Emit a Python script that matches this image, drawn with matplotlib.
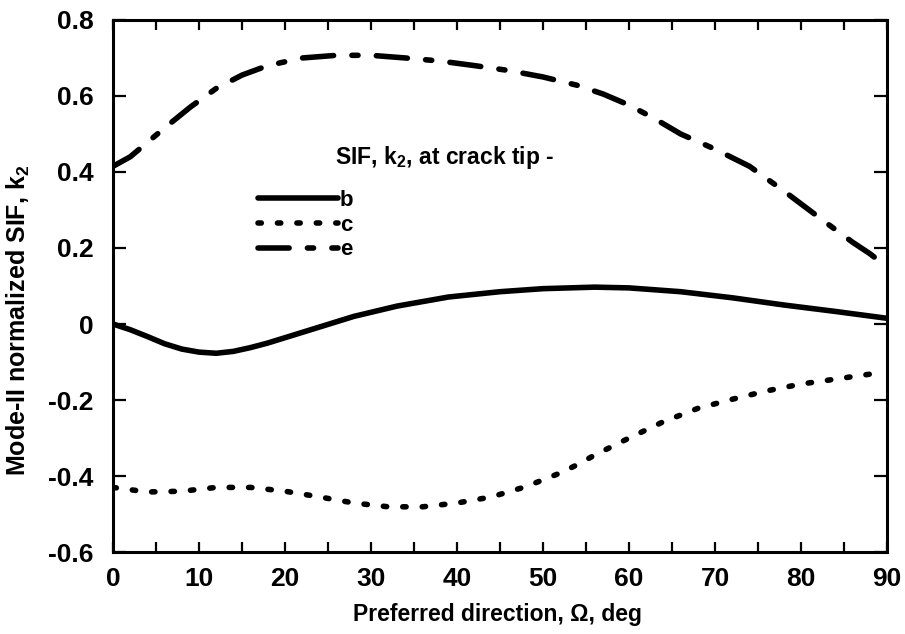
import matplotlib
matplotlib.use('Agg')
import matplotlib.pyplot as plt

plt.rcParams['font.family'] = 'Liberation Sans'
plt.rcParams['mathtext.fontset'] = 'custom'
plt.rcParams['mathtext.rm'] = 'Liberation Sans:bold'
plt.rcParams['mathtext.it'] = 'Liberation Sans:bold:italic'
plt.rcParams['mathtext.bf'] = 'Liberation Sans:bold'

# SIF k2 at crack tip b (solid)
bx = [0, 2, 4, 6, 8, 10, 12, 14, 16, 18, 20, 24, 28, 33, 39, 45, 50, 56, 60, 66, 72, 78, 84, 90]
by = [0.0, -0.015, -0.033, -0.052, -0.066, -0.074, -0.077, -0.072, -0.062, -0.05, -0.036, -0.008,
      0.02, 0.047, 0.071, 0.085, 0.093, 0.097, 0.095, 0.085, 0.069, 0.05, 0.033, 0.015]

# crack tip c (dotted)
cx = [0, 4, 8, 12, 16, 20, 24, 28, 32, 36, 40, 44, 48, 50, 52, 54, 56, 60, 64, 68, 72, 76, 80, 84, 88]
cy = [-0.43, -0.442, -0.44, -0.43, -0.43, -0.44, -0.455, -0.471, -0.481, -0.481, -0.471, -0.455,
      -0.428, -0.41, -0.392, -0.37, -0.345, -0.30, -0.257, -0.222, -0.198, -0.176, -0.158, -0.145, -0.132]

# crack tip e (dash-dot)
ex = [0, 2, 4, 6, 9, 12, 15, 18, 22, 26, 30, 34, 38, 42, 46, 50, 54, 57, 60, 63, 66, 70, 74, 78,
      80, 83, 86, 88, 90]
ey = [0.415, 0.44, 0.478, 0.516, 0.571, 0.62, 0.655, 0.68, 0.70, 0.707, 0.707, 0.70, 0.692, 0.68,
      0.667, 0.65, 0.628, 0.605, 0.576, 0.54, 0.50, 0.46, 0.415, 0.35, 0.316, 0.265, 0.215, 0.185, 0.15]

xticks = [0, 10, 20, 30, 40, 50, 60, 70, 80, 90]
yticks = [-0.6, -0.4, -0.2, 0, 0.2, 0.4, 0.6, 0.8]
ytick_labels = ['-0.6', '-0.4', '-0.2', '0', '0.2', '0.4', '0.6', '0.8']

fig = plt.figure(figsize=(9.05, 6.34), dpi=100)
ax = fig.add_axes([0.1249, 0.1293, 0.8553, 0.8392])

lw = 4.0
ax.plot(bx, by, '-', color='black', lw=lw, solid_capstyle='round', label='b')
ax.plot(cx, cy, color='black', lw=lw, linestyle=(0, (0.6, 2.9)), dash_capstyle='round', label='c')
ax.plot(ex, ey, color='black', lw=lw, linestyle=(0, (5.6, 3.3, 1.1, 3.3)),
        dash_capstyle='round', label='e')

ax.set_xlim(0, 90)
ax.set_ylim(-0.6, 0.8)
ax.set_xticks(xticks)
ax.set_xticks(range(5, 90, 10), minor=True)
ax.set_yticks(yticks)
ax.set_yticklabels(ytick_labels)

for s in ax.spines.values():
    s.set_linewidth(2.2)

ax.tick_params(axis='x', which='both', direction='in', top=True, length=7, width=1.6,
               labelsize=19, pad=11)
ax.tick_params(axis='y', which='both', direction='in', right=True, length=9.5, width=1.6,
               labelsize=19, pad=14)
for lab in ax.get_xticklabels() + ax.get_yticklabels():
    lab.set_fontweight('bold')

ax.set_xlabel('Preferred direction, \u03a9, deg', fontsize=16.5, fontweight='bold')
ax.set_ylabel('Mode-II normalized SIF, k$_{2}$', fontsize=18, fontweight='bold')
ax.xaxis.set_label_coords(0.497, -0.096)
ax.yaxis.set_label_coords(-0.105, 0.436)

leg = ax.legend(loc='upper left', bbox_to_anchor=(0.187, 0.680), frameon=False,
                prop={'size': 16, 'weight': 'bold'},
                handlelength=3.6, handletextpad=0.1, labelspacing=0.16, borderpad=0, borderaxespad=0)
ax.text(0.287, 0.742, 'SIF, k$_{2}$, at crack tip -', transform=ax.transAxes,
        fontsize=16.5, fontweight='bold', va='center', ha='left')

fig.savefig('out.png', dpi=100)
